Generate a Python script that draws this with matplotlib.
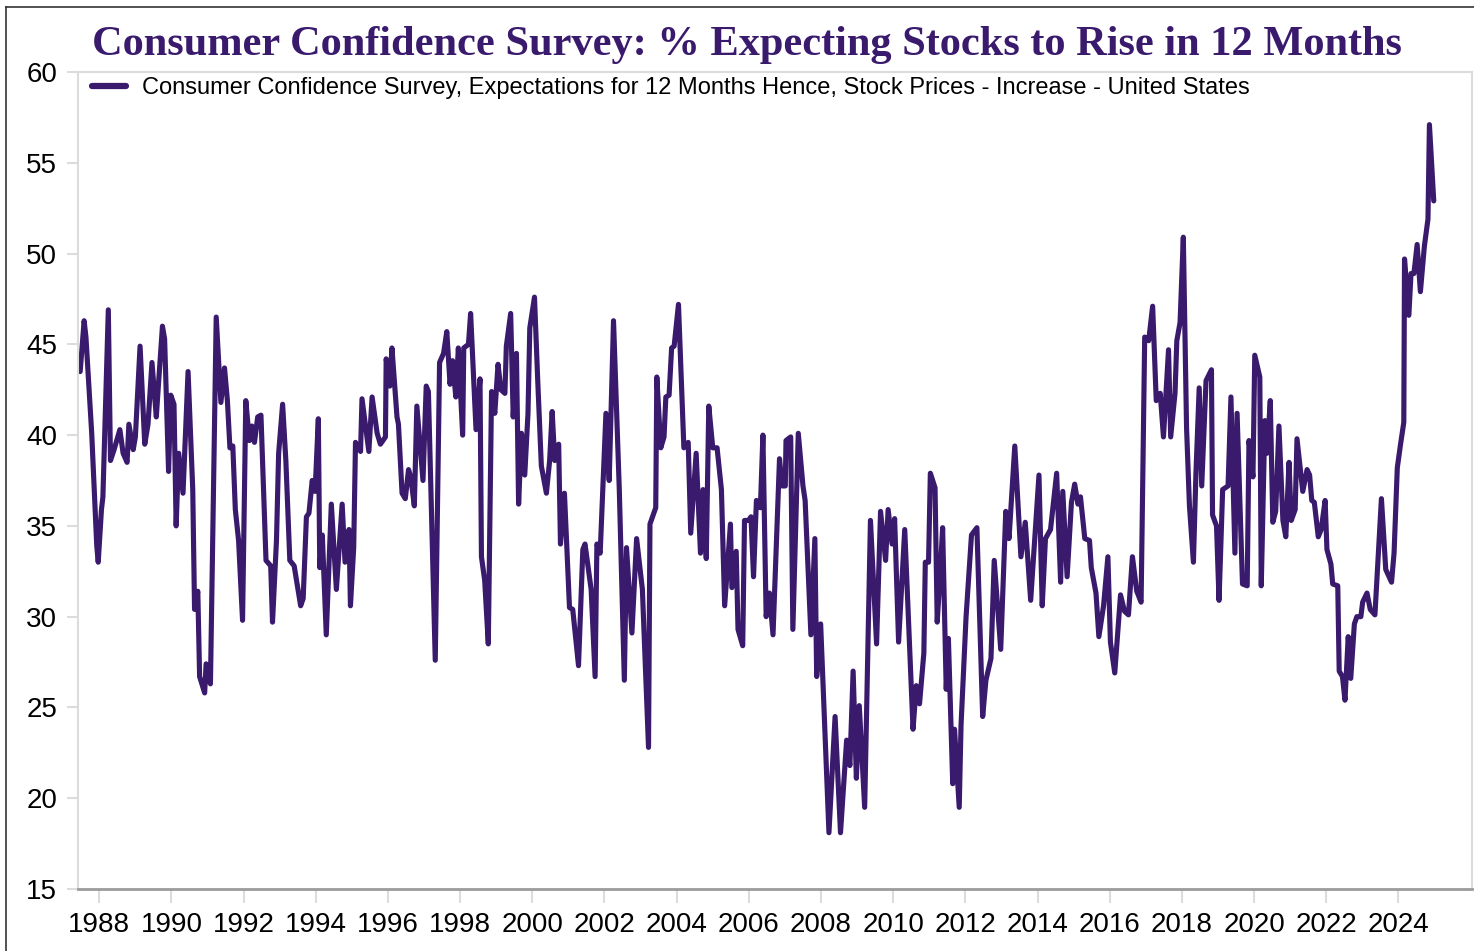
import matplotlib
matplotlib.use("Agg")
import matplotlib.pyplot as plt
from matplotlib.lines import Line2D

# monthly survey readings as (decimal year, % expecting rise)
years = [
    1987.47, 1987.58, 1987.63, 1987.79, 1987.93, 1987.97, 1988.06, 1988.10, 1988.25, 1988.31,
    1988.41, 1988.57, 1988.66, 1988.77, 1988.82, 1988.94, 1989.00, 1989.13, 1989.26, 1989.35,
    1989.46, 1989.58, 1989.63, 1989.75, 1989.81, 1989.92, 1989.98, 1990.07, 1990.13, 1990.20,
    1990.32, 1990.46, 1990.59, 1990.64, 1990.73, 1990.78, 1990.92, 1990.96, 1991.08, 1991.24,
    1991.37, 1991.47, 1991.55, 1991.62, 1991.70, 1991.77, 1991.86, 1991.97, 1992.06, 1992.16,
    1992.23, 1992.30, 1992.39, 1992.48, 1992.62, 1992.75, 1992.80, 1992.91, 1992.97, 1993.08,
    1993.17, 1993.28, 1993.40, 1993.58, 1993.65, 1993.74, 1993.81, 1993.90, 1993.98, 1994.07,
    1994.11, 1994.18, 1994.29, 1994.43, 1994.57, 1994.73, 1994.81, 1994.92, 1994.96, 1995.05,
    1995.10, 1995.24, 1995.28, 1995.47, 1995.56, 1995.70, 1995.79, 1995.93, 1995.95, 1996.05,
    1996.11, 1996.25, 1996.29, 1996.39, 1996.48, 1996.57, 1996.63, 1996.73, 1996.80, 1996.97,
    1997.06, 1997.12, 1997.31, 1997.43, 1997.54, 1997.63, 1997.72, 1997.79, 1997.88, 1997.95,
    1998.07, 1998.10, 1998.23, 1998.29, 1998.44, 1998.55, 1998.59, 1998.68, 1998.78, 1998.87,
    1998.96, 1999.05, 1999.13, 1999.24, 1999.28, 1999.40, 1999.47, 1999.56, 1999.62, 1999.70,
    1999.79, 1999.88, 1999.93, 2000.06, 2000.15, 2000.25, 2000.39, 2000.48, 2000.55, 2000.62,
    2000.73, 2000.78, 2000.89, 2001.03, 2001.12, 2001.28, 2001.40, 2001.46, 2001.63, 2001.74,
    2001.79, 2001.88, 2002.04, 2002.13, 2002.25, 2002.41, 2002.55, 2002.61, 2002.76, 2002.89,
    2003.05, 2003.22, 2003.26, 2003.42, 2003.45, 2003.56, 2003.65, 2003.70, 2003.79, 2003.86,
    2003.93, 2004.05, 2004.20, 2004.32, 2004.39, 2004.54, 2004.66, 2004.73, 2004.82, 2004.89,
    2005.00, 2005.12, 2005.24, 2005.33, 2005.49, 2005.53, 2005.65, 2005.70, 2005.83, 2005.88,
    2005.99, 2006.06, 2006.13, 2006.21, 2006.32, 2006.39, 2006.48, 2006.57, 2006.67, 2006.85,
    2006.92, 2007.01, 2007.03, 2007.16, 2007.22, 2007.37, 2007.50, 2007.56, 2007.72, 2007.83,
    2007.88, 2007.99, 2008.22, 2008.39, 2008.54, 2008.71, 2008.80, 2008.89, 2008.98, 2009.06,
    2009.21, 2009.37, 2009.54, 2009.65, 2009.79, 2009.86, 2009.97, 2010.04, 2010.15, 2010.32,
    2010.43, 2010.55, 2010.64, 2010.73, 2010.85, 2010.89, 2010.98, 2011.03, 2011.16, 2011.22,
    2011.31, 2011.37, 2011.47, 2011.53, 2011.65, 2011.70, 2011.83, 2011.88, 2012.02, 2012.17,
    2012.32, 2012.48, 2012.57, 2012.71, 2012.80, 2012.98, 2013.12, 2013.21, 2013.37, 2013.54,
    2013.66, 2013.81, 2014.04, 2014.13, 2014.22, 2014.36, 2014.53, 2014.64, 2014.70, 2014.82,
    2014.94, 2015.03, 2015.12, 2015.19, 2015.31, 2015.44, 2015.49, 2015.62, 2015.70, 2015.83,
    2015.95, 2016.02, 2016.14, 2016.30, 2016.41, 2016.52, 2016.63, 2016.75, 2016.87, 2016.97,
    2017.08, 2017.19, 2017.29, 2017.40, 2017.49, 2017.63, 2017.69, 2017.81, 2017.86, 2017.95,
    2018.04, 2018.13, 2018.21, 2018.32, 2018.39, 2018.48, 2018.55, 2018.67, 2018.82, 2018.85,
    2018.96, 2019.03, 2019.13, 2019.28, 2019.36, 2019.47, 2019.53, 2019.68, 2019.81, 2019.86,
    2019.97, 2020.02, 2020.16, 2020.20, 2020.30, 2020.36, 2020.45, 2020.52, 2020.60, 2020.69,
    2020.80, 2020.88, 2020.97, 2021.03, 2021.14, 2021.19, 2021.35, 2021.47, 2021.54, 2021.60,
    2021.67, 2021.78, 2021.86, 2021.97, 2022.02, 2022.13, 2022.18, 2022.32, 2022.36, 2022.45,
    2022.52, 2022.61, 2022.68, 2022.78, 2022.85, 2022.96, 2023.01, 2023.13, 2023.22, 2023.35,
    2023.53, 2023.65, 2023.81, 2023.88, 2023.97, 2024.06, 2024.15, 2024.17, 2024.29, 2024.35,
    2024.43, 2024.52, 2024.61, 2024.72, 2024.82, 2024.86, 2024.98,
]
pct_rise = [
    43.5, 46.3, 45.4, 40.1, 33.9, 33.0, 35.9, 36.6, 46.9, 38.6,
    39.2, 40.3, 39.0, 38.5, 40.6, 39.2, 39.9, 44.9, 39.5, 40.6,
    44.0, 41.0, 42.5, 46.0, 45.3, 38.0, 42.2, 41.7, 35.0, 39.0,
    36.8, 43.5, 37.0, 30.4, 31.4, 26.7, 25.8, 27.4, 26.3, 46.5,
    41.8, 43.7, 41.9, 39.3, 39.4, 35.9, 34.2, 29.8, 41.9, 39.7,
    40.5, 39.6, 41.0, 41.1, 33.1, 32.8, 29.7, 34.2, 39.0, 41.7,
    38.6, 33.1, 32.8, 30.6, 31.0, 35.5, 35.7, 37.5, 36.9, 40.9,
    32.7, 34.5, 29.0, 36.2, 31.5, 36.2, 33.0, 34.8, 30.6, 33.8,
    39.6, 39.1, 42.0, 39.1, 42.1, 40.1, 39.5, 39.9, 44.2, 42.7,
    44.8, 41.0, 40.6, 36.8, 36.5, 38.1, 37.7, 36.1, 41.6, 37.5,
    42.7, 42.4, 27.6, 44.0, 44.5, 45.7, 42.8, 44.1, 42.1, 44.8,
    40.0, 44.8, 45.0, 46.7, 40.3, 43.1, 33.3, 32.0, 28.5, 42.4,
    41.2, 43.9, 42.5, 42.3, 44.9, 46.7, 41.0, 44.5, 36.2, 40.1,
    37.8, 41.2, 45.9, 47.6, 43.0, 38.3, 36.8, 38.6, 41.3, 38.6,
    39.5, 34.0, 36.8, 30.5, 30.4, 27.3, 33.7, 34.0, 31.5, 26.7,
    34.0, 33.5, 41.2, 37.5, 46.3, 37.0, 26.5, 33.8, 29.1, 34.3,
    31.5, 22.8, 35.1, 36.0, 43.2, 39.3, 39.9, 42.1, 42.2, 44.8,
    44.9, 47.2, 39.3, 39.6, 34.6, 39.0, 33.5, 37.0, 33.2, 41.6,
    39.3, 39.3, 37.0, 30.6, 35.1, 31.6, 33.6, 29.3, 28.4, 35.3,
    35.3, 35.5, 32.2, 36.4, 36.0, 40.0, 30.0, 31.3, 29.0, 38.7,
    37.2, 37.2, 39.7, 39.9, 29.3, 40.1, 37.2, 36.4, 29.0, 34.3,
    26.7, 29.6, 18.1, 24.5, 18.1, 23.2, 21.8, 27.0, 21.1, 25.1,
    19.5, 35.3, 28.5, 35.8, 33.1, 35.9, 34.0, 35.4, 28.6, 34.8,
    29.5, 23.8, 26.2, 25.2, 28.0, 33.0, 33.0, 37.9, 37.1, 29.7,
    32.6, 34.9, 26.0, 28.8, 20.8, 23.8, 19.5, 24.0, 30.0, 34.5,
    34.9, 24.5, 26.5, 27.7, 33.1, 28.2, 35.8, 34.3, 39.4, 33.3,
    35.2, 30.9, 37.8, 30.6, 34.3, 34.8, 37.9, 31.9, 36.9, 32.2,
    36.3, 37.3, 36.2, 36.6, 34.3, 34.2, 32.7, 31.3, 28.9, 30.6,
    33.3, 28.6, 26.9, 31.2, 30.3, 30.1, 33.3, 31.4, 30.8, 45.4,
    45.2, 47.1, 41.9, 42.3, 39.9, 44.7, 39.9, 42.3, 45.2, 46.2,
    50.9, 40.4, 36.1, 33.0, 37.9, 42.6, 37.2, 43.0, 43.6, 35.6,
    35.0, 30.9, 37.0, 37.2, 42.1, 33.5, 41.2, 31.8, 31.7, 39.7,
    37.7, 44.4, 43.2, 31.7, 40.8, 39.0, 41.9, 35.2, 35.8, 40.5,
    35.3, 34.4, 38.5, 35.3, 35.9, 39.8, 36.9, 38.1, 37.8, 36.4,
    36.3, 34.4, 34.8, 36.4, 33.7, 32.9, 31.8, 31.7, 27.0, 26.7,
    25.4, 28.9, 26.6, 29.6, 30.0, 30.0, 30.8, 31.3, 30.4, 30.1,
    36.5, 32.6, 31.9, 33.5, 38.2, 39.5, 40.7, 49.7, 46.6, 48.9,
    48.9, 50.5, 47.9, 50.4, 51.9, 57.1, 52.9,
]
x_ticks = list(range(1988, 2025, 2))
y_ticks = [15, 20, 25, 30, 35, 40, 45, 50, 55, 60]

title = "Consumer Confidence Survey: % Expecting Stocks to Rise in 12 Months"
series_label = ("Consumer Confidence Survey, Expectations for 12 Months Hence, "
                "Stock Prices - Increase - United States")

PURPLE = "#391A6C"
LIGHT = "#DCDCDC"

plt.rcParams["font.family"] = ["Liberation Sans", "DejaVu Sans"]

fig = plt.figure(figsize=(14.74, 9.51), dpi=100, facecolor="white")
ax = fig.add_axes([78 / 1474, 1 - 889 / 951, (1472 - 78) / 1474, (889 - 72) / 951])

ax.plot(years, pct_rise, color=PURPLE, lw=3.7, solid_joinstyle="round",
        solid_capstyle="round")

ax.set_xlim(1987.41, 2026.04)
ax.set_ylim(15, 60)
ax.set_xticks(x_ticks)
ax.set_xticklabels([str(y) for y in x_ticks])
ax.set_yticks(y_ticks)

for side in ("left", "top", "right"):
    ax.spines[side].set_color(LIGHT)
    ax.spines[side].set_linewidth(1.5)
ax.spines["bottom"].set_color("#9A9A9A")
ax.spines["bottom"].set_linewidth(2)

ax.tick_params(axis="x", length=10, width=1.5, color=LIGHT, labelsize=20,
               pad=6.5, labelcolor="black")
ax.tick_params(axis="y", length=8, width=1.5, color=LIGHT, labelsize=20,
               pad=7, labelcolor="black")

handle = Line2D([], [], color=PURPLE, lw=4.5, solid_capstyle="round")
ax.legend([handle], [series_label], loc="upper left", frameon=False,
          fontsize=17, handlelength=1.45, handletextpad=0.65,
          borderaxespad=0.2, bbox_to_anchor=(0.0, 1.011))

fig.text(0.507, 0.953, title, ha="center", va="center", color=PURPLE,
         fontsize=30.5, fontweight="bold", family=["Liberation Serif", "DejaVu Serif"])

# thin frame along the left and top of the image
fig.add_artist(Line2D([6 / 1474, 6 / 1474], [0, 1 - 7 / 951], color="#333333", lw=1.2,
                      transform=fig.transFigure))
fig.add_artist(Line2D([6 / 1474, 1], [1 - 7 / 951, 1 - 7 / 951], color="#333333", lw=1.2,
                      transform=fig.transFigure))

fig.savefig("out.png", dpi=100, facecolor="white")
